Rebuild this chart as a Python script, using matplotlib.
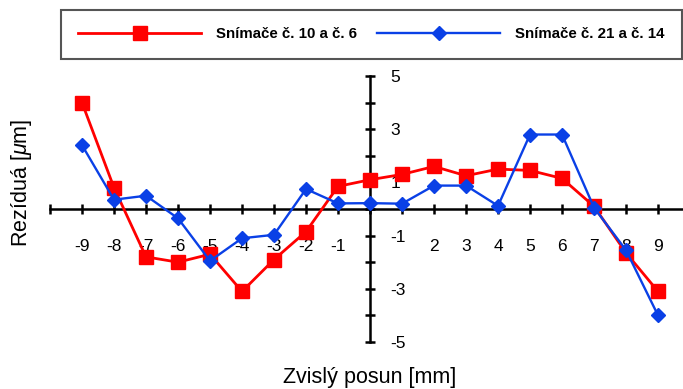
import matplotlib
matplotlib.use("Agg")
import matplotlib.pyplot as plt
from matplotlib.lines import Line2D

plt.rcParams['font.family'] = ['Liberation Sans', 'DejaVu Sans']
plt.rcParams['mathtext.fontset'] = 'custom'
plt.rcParams['mathtext.it'] = 'Liberation Sans:italic'
plt.rcParams['mathtext.rm'] = 'Liberation Sans'

# --- data ---
posun = list(range(-9, 10))
rezidua_10_6 = [4.0, 0.8, -1.8, -2.0, -1.7, -3.1, -1.9, -0.85, 0.85, 1.1,
                1.3, 1.6, 1.25, 1.5, 1.45, 1.15, 0.1, -1.65, -3.1]
rezidua_21_14 = [2.4, 0.35, 0.5, -0.35, -1.95, -1.1, -0.97, 0.75, 0.21, 0.22,
                 0.2, 0.88, 0.88, 0.12, 2.8, 2.8, 0.05, -1.55, -4.0]
label_10_6 = "Snímače č. 10 a č. 6"
label_21_14 = "Snímače č. 21 a č. 14"

x_ticks = list(range(-10, 10))
x_ticklabels = ['' if t in (-10, 0, 1) else str(t) for t in x_ticks]
y_ticks = list(range(-5, 6))
y_ticklabels = [str(t) if t % 2 else '' for t in y_ticks]

red = '#ff0000'
blue = '#0a40e6'

fig = plt.figure(figsize=(6.83, 3.89), dpi=100)
ax = fig.add_axes([50 / 683, 1 - 368.6 / 389, 633 / 683, 305.9 / 389])

ax.plot(posun, rezidua_10_6, color=red, lw=2.0, marker='s', ms=9.5,
        label=label_10_6, zorder=3)
ax.plot(posun, rezidua_21_14, color=blue, lw=1.7, marker='D', ms=7,
        label=label_21_14, zorder=4)

ax.set_xlim(-10, 9.78)
ax.set_ylim(-6, 5.5)

# osi sa krizuju v nule
ax.spines['top'].set_visible(False)
ax.spines['left'].set_visible(False)
ax.spines['bottom'].set_position(('data', 0))
ax.spines['right'].set_position(('data', 0))
ax.spines['bottom'].set_bounds(-10, 9.78)
ax.spines['right'].set_bounds(-5, 5)
for s in ('bottom', 'right'):
    ax.spines[s].set_linewidth(1.8)
    ax.spines[s].set_zorder(2)
ax.yaxis.tick_right()

ax.set_xticks(x_ticks)
ax.set_xticklabels(x_ticklabels)
ax.set_yticks(y_ticks)
ax.set_yticklabels(y_ticklabels)
ax.tick_params(axis='x', direction='inout', length=7, width=1.8, pad=18,
               labelsize=12.5)
ax.tick_params(axis='y', direction='inout', length=7, width=1.8, pad=11,
               labelsize=12.5)
for lab in ax.get_yticklabels():
    lab.set_horizontalalignment('left')

fig.text(370 / 683, 1 - 378 / 389, "Zvislý posun [mm]", ha='center',
         va='center', fontsize=15.5)
fig.text(22 / 683, 1 - 183 / 389, r"Rezíduá [$\mu$m]", ha='center',
         va='center', rotation=90, fontsize=15.5)

handles = [
    Line2D([], [], color=red, lw=2.0, marker='s', ms=9.5),
    Line2D([], [], color=blue, lw=1.7, marker='D', ms=7),
]
leg = fig.legend(handles, [label_10_6, label_21_14], ncol=2,
                 loc='center', bbox_to_anchor=(61 / 683, 1 - 59 / 389,
                                               621 / 683, 49 / 389),
                 mode='expand', borderaxespad=0, numpoints=1,
                 handlelength=8.2, handletextpad=1.0, borderpad=1.15,
                 fancybox=False, framealpha=1,
                 prop={'weight': 'bold', 'size': 10.8})
leg.get_frame().set_edgecolor('#555555')
leg.get_frame().set_linewidth(1.5)

fig.savefig('out.png', dpi=100)
